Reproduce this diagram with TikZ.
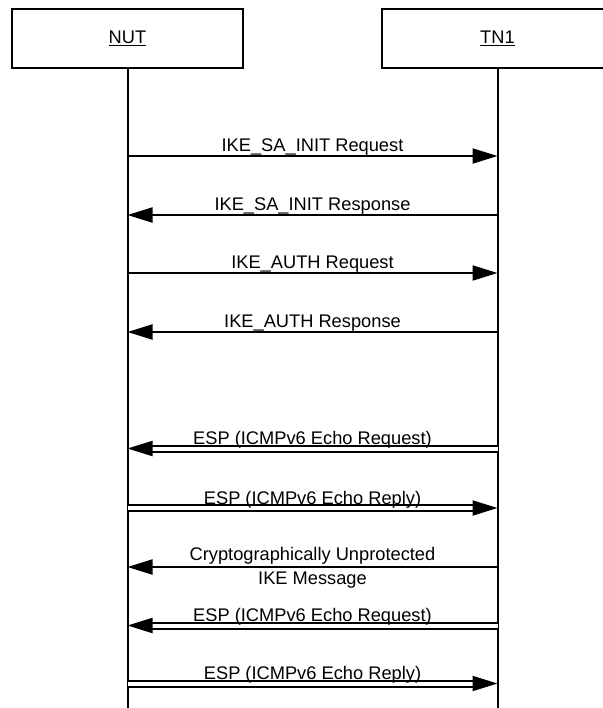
\documentclass[tikz,border=0pt]{standalone}
\usepackage{fontspec}
\setmainfont{Liberation Sans}
\usetikzlibrary{arrows.meta}

\begin{document}
\begin{tikzpicture}[x=0.75pt, y=-0.75pt,
        every node/.style={font=\fontsize{13.7}{16}\selectfont},
        entity/.style={draw, line width=1.5pt, minimum width=173pt, minimum height=44pt, inner sep=0pt},
        life/.style={line width=1.5pt},
        msg/.style={line width=1.5pt, -{Triangle[length=18.75pt, width=11.25pt]}},
        dmsg/.style={msg, double, double distance=3pt},
        lbl/.style={anchor=base, inner sep=0pt, yshift=3.75pt},
        dlbl/.style={anchor=base, inner sep=0pt, yshift=3pt}]

        \clip (0,0) rectangle (603,708);

        \node[entity] (nut) at (127.5,38.5) {\underline{NUT}};
        \node[entity] (tn1) at (497.5,38.5) {\underline{TN1}};
        \coordinate (nutEnd) at (127.5,708);
        \coordinate (tn1End) at (497.5,708);
        \draw[life] (nut.south) -- (nutEnd);
        \draw[life] (tn1.south) -- (tn1End);

        \foreach \i/\y in {1/156, 2/215, 3/273, 4/332, 5/448.5, 6/508, 7/567, 8/625.5, 9/683.5} {
            \coordinate (n\i) at (127.5,\y);
            \coordinate (t\i) at (497.5,\y);
        }

        \draw[msg] (n1) -- node[lbl] {IKE\_SA\_INIT Request} (t1);
        \draw[msg] (t2) -- node[lbl] {IKE\_SA\_INIT Response} (n2);
        \draw[msg] (n3) -- node[lbl] {IKE\_AUTH Request} (t3);
        \draw[msg] (t4) -- node[lbl] {IKE\_AUTH Response} (n4);

        \draw[dmsg] (t5) -- node[dlbl] {ESP (ICMPv6 Echo Request)} (n5);
        \draw[dmsg] (n6) -- node[dlbl] {ESP (ICMPv6 Echo Reply)} (t6);
        \draw[msg] (t7) -- node[lbl, yshift=1pt] {Cryptographically Unprotected}
            node[lbl, yshift=-16.5pt] {IKE Message} (n7);
        \draw[dmsg] (t8) -- node[dlbl] {ESP (ICMPv6 Echo Request)} (n8);
        \draw[dmsg] (n9) -- node[dlbl] {ESP (ICMPv6 Echo Reply)} (t9);

    \end{tikzpicture}
\end{document}
